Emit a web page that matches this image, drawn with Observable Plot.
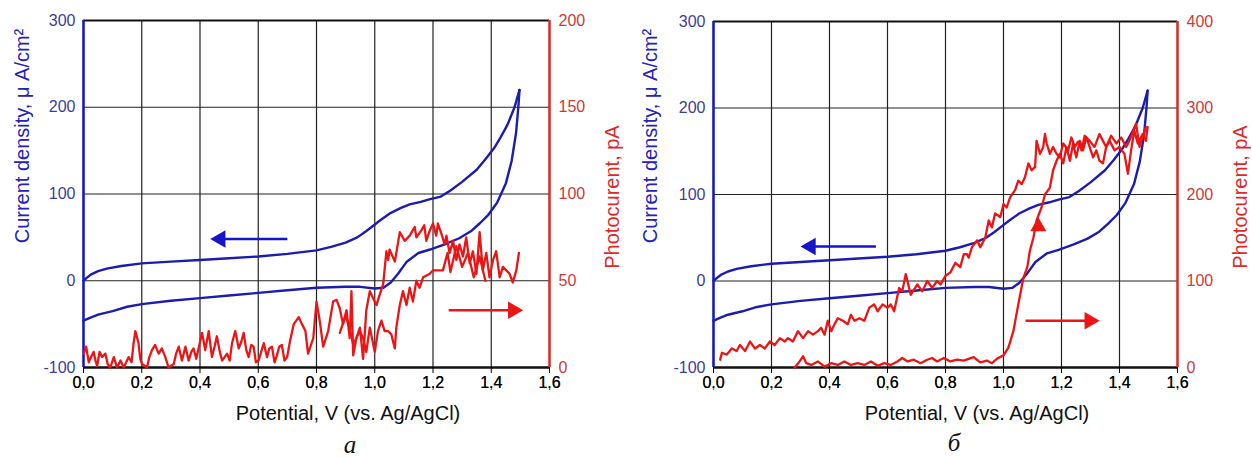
<!DOCTYPE html>
<html><head><meta charset="utf-8">
<script src="https://cdn.jsdelivr.net/npm/d3@7"></script>
<script src="https://cdn.jsdelivr.net/npm/@observablehq/plot@0.6"></script>
<style>
body{margin:0;background:#fff;}
#chart{position:relative;width:1252px;height:457px;overflow:hidden;font-family:Arial,"Liberation Sans",sans-serif;}
.layer{position:absolute;top:0;width:626px;height:400px;}
.lbl{position:absolute;white-space:nowrap;transform:translate(-50%,-50%);font-size:20px;line-height:1;}
.rot{transform:translate(-50%,-50%) rotate(-90deg);}
.pan{font-family:"Liberation Serif","DejaVu Serif",serif;font-style:italic;font-size:25px;color:#111;}
</style></head><body><div id="chart"></div>
<script>
// ---- tick values ----
const xTicks = [0, 0.2, 0.4, 0.6, 0.8, 1.0, 1.2, 1.4, 1.6];
const currentTicks = [-100, 0, 100, 200, 300];
const photoTicksA = [0, 50, 100, 150, 200];
const photoTicksB = [0, 100, 200, 300, 400];

// ---- cyclic voltammogram (µA/cm²), same in both panels ----
const cvForward = [[0,-46],[0.02,-43],[0.05,-39],[0.1,-35],[0.15,-30],[0.2,-27],[0.3,-23],[0.4,-20],[0.5,-17],[0.6,-14],[0.7,-11],[0.8,-8],[0.9,-7],[0.95,-7],[1.0,-9],[1.03,-8],[1.055,-2],[1.08,8],[1.11,22],[1.15,32],[1.19,36],[1.24,42],[1.29,49],[1.33,57],[1.36,66],[1.39,76],[1.42,90],[1.45,112],[1.47,138],[1.485,170],[1.493,200],[1.497,220]];
const cvReverse = [[1.497,220],[1.48,200],[1.456,180],[1.43,164],[1.41,153],[1.38,140],[1.35,128],[1.3,114],[1.26,104],[1.227,97],[1.19,94],[1.158,91],[1.12,88],[1.09,84],[1.054,78],[1.02,70],[0.997,64],[0.97,57],[0.94,50],[0.9,44],[0.85,39],[0.8,35],[0.7,31],[0.6,28],[0.5,26],[0.4,24],[0.3,22],[0.2,20],[0.13,17],[0.08,14],[0.05,11],[0.025,7],[0.01,3],[0,0]];

// ---- photocurrent, panel а (pA) ----
const photoA1 = [[0.0,8],[0.009,12],[0.018,3],[0.026,6],[0.035,9],[0.041,4],[0.047,1],[0.055,9],[0.064,6],[0.075,8],[0.083,2],[0.092,0],[0.104,6],[0.115,0],[0.127,4],[0.138,0],[0.155,6],[0.165,3],[0.172,14],[0.178,21],[0.189,14],[0.195,5],[0.201,2],[0.218,0],[0.226,6],[0.235,10],[0.246,13],[0.258,8],[0.269,11],[0.281,6],[0.292,0],[0.31,2],[0.318,8],[0.327,12],[0.338,4],[0.35,12],[0.361,4],[0.37,9],[0.378,11],[0.387,5],[0.395,11],[0.407,20],[0.418,10],[0.43,21],[0.441,6],[0.45,12],[0.458,18],[0.468,9],[0.476,4],[0.493,8],[0.502,4],[0.51,14],[0.521,21],[0.533,11],[0.542,15],[0.55,20],[0.559,10],[0.567,6],[0.576,13],[0.584,12],[0.592,3],[0.601,4],[0.61,9],[0.619,14],[0.63,6],[0.638,11],[0.647,12],[0.656,3],[0.664,7],[0.672,12],[0.681,13],[0.69,4],[0.699,6],[0.71,16],[0.722,25],[0.739,29],[0.75,25],[0.762,21],[0.771,8],[0.789,17],[0.8,38],[0.811,27],[0.823,12],[0.84,21],[0.857,38],[0.869,39],[0.88,34],[0.891,25],[0.903,33],[0.914,17],[0.92,44],[0.926,7],[0.937,17],[0.949,23],[0.96,5],[0.971,33],[0.983,44],[0.994,40],[1.006,36],[1.017,42],[1.029,48],[1.04,67],[1.046,62],[1.051,68],[1.069,61],[1.086,78],[1.103,73],[1.12,76],[1.137,81],[1.143,75],[1.16,79],[1.17,82],[1.177,73],[1.189,79],[1.2,83],[1.211,76],[1.217,83],[1.229,77],[1.24,71],[1.246,76],[1.257,66],[1.269,73],[1.28,62],[1.291,71],[1.303,64],[1.314,75],[1.326,60],[1.337,67],[1.349,54],[1.36,78],[1.371,56],[1.383,66],[1.394,52],[1.406,62],[1.417,67],[1.429,52],[1.44,58],[1.463,54],[1.474,49],[1.486,56],[1.495,66]];
const photoA2 = [[0.88,20],[0.9,30],[0.915,22],[0.926,13],[0.937,17],[0.949,21],[0.96,17],[0.971,9],[0.983,23],[1.0,9],[1.011,21],[1.023,27],[1.034,21],[1.046,21],[1.057,19],[1.069,11],[1.074,23],[1.086,36],[1.097,44],[1.109,36],[1.12,46],[1.131,38],[1.143,50],[1.154,46],[1.166,52],[1.189,54],[1.2,56],[1.234,56],[1.25,66],[1.26,55],[1.28,70],[1.3,58],[1.32,66],[1.34,52],[1.36,64],[1.38,50]];

// ---- photocurrent, panel б (pA) ----
const photoB1 = [[0.28,0],[0.297,7],[0.309,13],[0.32,5],[0.337,3],[0.36,7],[0.383,1],[0.406,5],[0.429,3],[0.451,7],[0.474,3],[0.497,5],[0.52,3],[0.543,7],[0.566,2],[0.589,5],[0.611,3],[0.634,7],[0.651,11],[0.669,7],[0.691,9],[0.714,5],[0.737,9],[0.754,11],[0.771,7],[0.794,11],[0.817,7],[0.84,9],[0.863,8],[0.897,12],[0.92,6],[0.943,8],[0.96,5],[0.977,10],[1.0,14],[1.017,23],[1.034,42],[1.051,73],[1.069,104],[1.082,116],[1.091,135],[1.103,150],[1.114,170],[1.131,185],[1.143,200],[1.16,208],[1.171,228],[1.183,239],[1.194,247],[1.206,236],[1.217,255],[1.229,239],[1.24,259],[1.251,243],[1.263,262],[1.274,251],[1.286,266],[1.297,255],[1.309,243],[1.32,251],[1.331,239],[1.343,236],[1.354,255],[1.366,262],[1.383,251],[1.4,255],[1.417,247],[1.429,224],[1.44,251],[1.451,274],[1.463,259],[1.48,270],[1.491,262],[1.497,278]];
const photoB2 = [[1.491,278],[1.469,255],[1.457,282],[1.434,262],[1.423,255],[1.406,266],[1.389,259],[1.371,268],[1.354,255],[1.343,262],[1.331,270],[1.314,255],[1.297,262],[1.28,268],[1.269,251],[1.257,261],[1.246,255],[1.234,266],[1.223,251],[1.206,259],[1.194,243],[1.183,247],[1.171,255],[1.16,247],[1.149,259],[1.143,270],[1.137,255],[1.126,247],[1.114,262],[1.109,232],[1.097,228],[1.086,236],[1.074,220],[1.063,212],[1.051,216],[1.04,205],[1.023,197],[1.011,185],[1.0,189],[0.989,174],[0.971,178],[0.96,162],[0.949,170],[0.937,150],[0.92,139],[0.909,147],[0.891,139],[0.88,127],[0.874,131],[0.863,131],[0.851,116],[0.834,121],[0.817,110],[0.8,106],[0.783,96],[0.771,100],[0.754,92],[0.737,100],[0.72,88],[0.703,96],[0.68,84],[0.663,108],[0.651,88],[0.64,92],[0.623,65],[0.611,73],[0.6,69],[0.583,73],[0.566,65],[0.554,73],[0.537,69],[0.52,54],[0.503,57],[0.486,54],[0.474,61],[0.463,50],[0.446,54],[0.429,57],[0.417,50],[0.406,42],[0.394,54],[0.383,38],[0.371,46],[0.36,42],[0.343,38],[0.326,42],[0.309,34],[0.291,42],[0.274,30],[0.257,34],[0.246,30],[0.229,34],[0.211,26],[0.194,30],[0.177,22],[0.16,26],[0.143,22],[0.126,30],[0.109,19],[0.091,26],[0.08,19],[0.063,22],[0.046,15],[0.029,17],[0.023,9]];

// ---- direction arrows (data units: x1 -> head x, y) ----
const blueArrowA = {x1: 0.70, x2: 0.47, y: 48};
const redArrowA = {x1: 1.254, x2: 1.475, y: 33};
const blueArrowB = {x1: 0.56, x2: 0.335, y: 40};
const redArrowB = {x1: 1.076, x2: 1.297, y: 54};
const upHeadB = {x: 1.12, y: 163};

const BLUE = "#1c1cae", BLUE_AX = "#1515c8", RED = "#ec1414", RED_AX = "#e02a2a";
const fmtX = d => d.toFixed(1).replace(".", ",");
const xy = {x: d => d[0], y: d => d[1]};

function panel(o) {
  const common = {
    width: 626, height: 400,
    marginLeft: o.mL, marginRight: o.mR, marginTop: o.mT, marginBottom: 400 - 367,
    x: {domain: [0, 1.6]},
    style: {background: "transparent", fontFamily: "Arial, 'Liberation Sans', sans-serif", fontSize: "16px", overflow: "visible"}
  };
  const p1 = Plot.plot({
    ...common,
    y: {domain: [-100, 300]},
    marks: [
      Plot.gridX(xTicks, {stroke: "#222", strokeOpacity: 1, strokeWidth: 1.2}),
      Plot.gridY(currentTicks, {stroke: "#222", strokeOpacity: 1, strokeWidth: 1.2}),
      Plot.ruleY([300], {stroke: "#111", strokeWidth: 2}),
      Plot.ruleY([-100], {stroke: "#111", strokeWidth: 2.5}),
      Plot.ruleX([0], {stroke: BLUE_AX, strokeWidth: 2.5}),
      Plot.axisX(xTicks, {tickSize: 0, tickPadding: 9, tickFormat: fmtX, fill: "#333", label: null}),
      Plot.axisY(currentTicks, {tickSize: 0, tickPadding: 8, tickFormat: d => String(d), fill: "#3d3d99", label: null}),
      Plot.line(cvForward, {...xy, stroke: BLUE, strokeWidth: 2.4}),
      Plot.line(cvReverse, {...xy, stroke: BLUE, strokeWidth: 2.4}),
      Plot.link([o.blue], {x1: "x1", x2: "x2", y1: "y", y2: "y", stroke: BLUE_AX, strokeWidth: 2.5}),
      Plot.dot([o.blue], {x: "x2", y: "y", symbol: "triangle", rotate: -90, r: 6.5, fill: BLUE_AX, stroke: null})
    ]
  });
  const p2 = Plot.plot({
    ...common,
    y: {domain: o.photoDomain},
    marks: [
      Plot.ruleX([1.6], {stroke: RED_AX, strokeWidth: 2.5}),
      Plot.axisY(o.photoTicks, {anchor: "right", tickSize: 0, tickPadding: 9, tickFormat: d => String(d), fill: "#cc3a3a", label: null}),
      ...o.photo.map(s => Plot.line(s, {...xy, stroke: RED, strokeWidth: 2.3, strokeLinejoin: "round"})),
      Plot.link([o.red], {x1: "x1", x2: "x2", y1: "y", y2: "y", stroke: RED, strokeWidth: 2.5}),
      Plot.dot([o.red], {x: "x2", y: "y", symbol: "triangle", rotate: 90, r: 6.5, fill: RED, stroke: null}),
      ...(o.up ? [Plot.dot([o.up], {x: "x", y: "y", symbol: "triangle", r: 6, fill: RED, stroke: null})] : [])
    ]
  });
  for (const p of [p1, p2]) {
    const d = document.createElement("div");
    d.className = "layer";
    d.style.left = o.left + "px";
    d.appendChild(p);
    document.getElementById("chart").appendChild(d);
  }
}

panel({left: 0, mL: 83, mR: 77, mT: 20, photoDomain: [0, 200], photoTicks: photoTicksA,
  photo: [photoA1, photoA2], blue: blueArrowA, red: redArrowA});
panel({left: 626, mL: 87, mR: 75, mT: 21, photoDomain: [0, 400], photoTicks: photoTicksB,
  photo: [photoB1, photoB2], blue: blueArrowB, red: redArrowB, up: upHeadB});

// ---- text labels ----
const labels = [
  {t: "Current density, μ A/cm²", x: 22, y: 136, c: "#2323bb", rot: true},
  {t: "Photocurent, pA", x: 612, y: 197, c: "#e02828", rot: true},
  {t: "Potential, V (vs. Ag/AgCl)", x: 348, y: 413, c: "#111"},
  {t: "Current density, μ A/cm²", x: 650, y: 136, c: "#2323bb", rot: true},
  {t: "Photocurent, pA", x: 1240, y: 197, c: "#e02828", rot: true},
  {t: "Potential, V (vs. Ag/AgCl)", x: 977, y: 413, c: "#111"},
  {t: "а", x: 350, y: 444, c: "#111", pan: true},
  {t: "б", x: 954, y: 442, c: "#111", pan: true}
];
for (const l of labels) {
  const d = document.createElement("div");
  d.className = "lbl" + (l.rot ? " rot" : "") + (l.pan ? " pan" : "");
  d.textContent = l.t;
  d.style.left = l.x + "px";
  d.style.top = l.y + "px";
  d.style.color = l.c;
  document.getElementById("chart").appendChild(d);
}
</script></body></html>
